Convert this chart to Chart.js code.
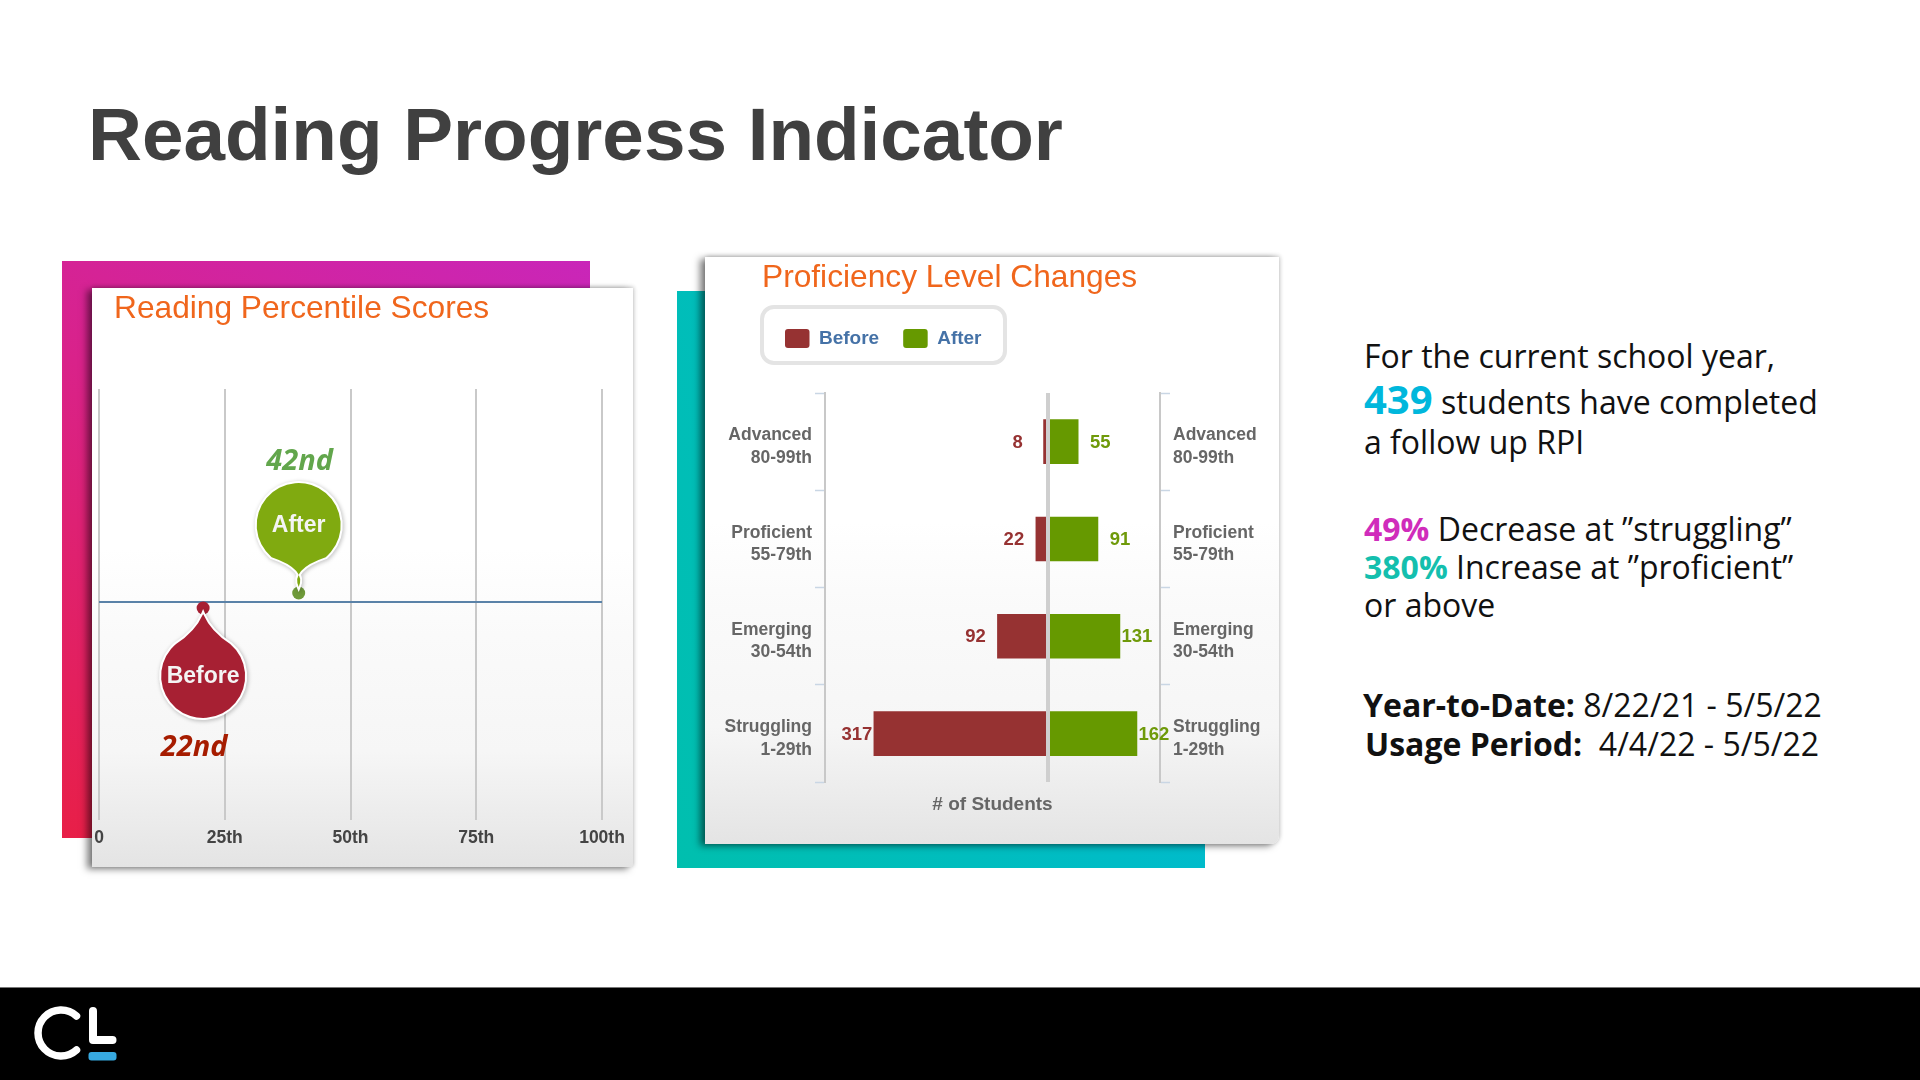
<!DOCTYPE html>
<html><head><meta charset="utf-8">
<script src="https://cdn.jsdelivr.net/npm/chart.js@4"></script>
<style>
html,body{margin:0;padding:0;background:#fff;width:1920px;height:1080px;overflow:hidden;font-family:"Liberation Sans",Arial,sans-serif}
.abs{position:absolute}
#title{left:88px;top:91px;font:bold 74.67px/86px "Liberation Sans";color:#404040;white-space:nowrap}
#mag{left:62px;top:261px;width:528px;height:577px;background:linear-gradient(30deg,#e81f47 0%,#d9228a 55%,#c926b9 100%)}
#teal{left:677px;top:291px;width:528px;height:577px;background:linear-gradient(70deg,#00bfae 0%,#00bcc6 60%,#00bad6 100%)}
.panel{background:linear-gradient(180deg,#fff 0%,#fff 45%,#fafafa 60%,#f6f6f6 80%,#e4e4e4 100%);box-shadow:-5px 2px 7px rgba(0,0,0,.5),1px -1px 4px rgba(0,0,0,.2)}
#p1{left:92px;top:288px;width:541px;height:579px}
#p2{left:705px;top:257px;width:574px;height:587px;border-bottom-right-radius:8px}
#legendBox{left:55px;top:48px;width:239px;height:52px;border:4px solid #e4e4e4;border-radius:14px}
canvas{position:absolute;left:0;top:0}
.t{position:absolute;left:1364px;font:32px/32px "Open Sans";color:#111;white-space:pre}
.t b{font-weight:700}
#foot{left:0;top:987px;width:1920px;height:93px;background:#000;border-top:1px solid #777;box-sizing:border-box}
</style></head><body>
<div class="abs" id="title">Reading Progress Indicator</div>
<div class="abs" id="mag"></div>
<div class="abs" id="teal"></div>
<div class="abs panel" id="p1"><canvas id="c1" width="541" height="579"></canvas></div>
<div class="abs panel" id="p2"><div class="abs" id="legendBox"></div><canvas id="c2" width="574" height="587"></canvas></div>

<div class="t" style="top:340px">For the current school year,</div>
<div class="t" style="top:383px"><b style="font-size:40px;color:#00b7dc">439</b> students have completed</div>
<div class="t" style="top:426px">a follow up RPI</div>
<div class="t" style="top:513px"><b style="color:#d02cbb">49%</b> Decrease at ”struggling”</div>
<div class="t" style="top:551px"><b style="color:#14bfae">380%</b> Increase at ”proficient”</div>
<div class="t" style="top:589px">or above</div>
<div class="t" style="top:689px;left:1363px"><b>Year-to-Date:</b> 8/22/21 - 5/5/22</div>
<div class="t" style="top:728px;left:1365px"><b>Usage Period:</b>  4/4/22 - 5/5/22</div>

<div class="abs" id="foot"></div>
<svg class="abs" style="left:0;top:0" width="200" height="1080" viewBox="0 0 200 1080">
<path d="M76.5 1016 A23 23 0 1 0 76.5 1050" fill="none" stroke="#fff" stroke-width="7.5" stroke-linecap="round"/>
<path d="M93 1011 V1040 H112.5" fill="none" stroke="#fff" stroke-width="8" stroke-linecap="round" stroke-linejoin="round"/>
<rect x="88.5" y="1052" width="28" height="8.5" rx="3" fill="#37a9e0"/>
</svg>

<script>
// ---------- data ----------
const percentileTicks = [0, 25, 50, 75, 100];
const percentileTickLabels = ['0', '25th', '50th', '75th', '100th'];
const baselineX = [0, 100];
const pinNames = ['Before', 'After'];
const pinPositions = [20.7, 39.7];
const pinLabels = ['22nd', '42nd'];

const levels = ['Advanced', 'Proficient', 'Emerging', 'Struggling'];
const levelRanges = ['80-99th', '55-79th', '30-54th', '1-29th'];
const beforeCounts = [8, 22, 92, 317];
const afterCounts = [55, 91, 131, 162];

// ---------- shared ----------
const ORANGE = '#f0661c', AXIS_TXT = '#666', RED = '#963232', GREEN = '#669900';
Chart.defaults.font.family = '"Liberation Sans"';
Chart.defaults.devicePixelRatio = 1;
const boldFont = { family: '"Liberation Sans"', size: 17.5, weight: 'bold' };
const tickFont = { family: '"Liberation Sans"', size: 17.5, weight: 'bold', lineHeight: 1.29 };
const bigBold = { family: '"Liberation Sans"', size: 19, weight: 'bold' };
const titleFont = { family: '"Liberation Sans"', size: 31.7, weight: 'normal' };

// ---------- chart 1 ----------
function drawPin(ctx, x, baseY, dir, dotGap, color, dotColor, name, label, lx, ly, labelColor) {
  const R = 42, dotY = baseY + dotGap, cy = dotY + dir * 68, tipY = dotY + dir * 6;
  ctx.save();
  ctx.fillStyle = dotColor;
  ctx.beginPath(); ctx.arc(x, dotY, 6.5, 0, Math.PI * 2); ctx.fill();
  const axis = dir > 0 ? -Math.PI / 2 : Math.PI / 2, th = 0.7;
  const cpY = cy - dir * (R + 2);
  ctx.beginPath();
  ctx.arc(x, cy, R, axis + th, axis - th + Math.PI * 2);
  ctx.quadraticCurveTo(x - 8, cpY, x, tipY);
  ctx.quadraticCurveTo(x + 8, cpY, x + R * Math.cos(axis + th), cy + R * Math.sin(axis + th));
  ctx.closePath();
  ctx.shadowColor = 'rgba(0,0,0,.28)'; ctx.shadowBlur = 4; ctx.shadowOffsetX = 1; ctx.shadowOffsetY = 1;
  ctx.lineWidth = 4; ctx.strokeStyle = '#fff'; ctx.stroke();
  ctx.shadowColor = 'transparent';
  ctx.fillStyle = color; ctx.fill();
  ctx.fillStyle = '#f4f4f4';
  ctx.font = 'bold 23px "Liberation Sans"';
  ctx.textAlign = 'center'; ctx.textBaseline = 'middle';
  ctx.fillText(name, x, cy + 1);
  ctx.font = 'italic bold 29px "Open Sans"';
  ctx.fillStyle = labelColor;
  ctx.fillText(label, x + lx, cy + ly);
  ctx.restore();
}
const pinPlugin = {
  id: 'pins',
  afterDatasetsDraw(chart) {
    const els = chart.getDatasetMeta(1).data, ctx = chart.ctx;
    drawPin(ctx, els[0].x, els[0].y, 1, 6, '#a72033', '#a72033', pinNames[0], pinLabels[0], -9, 72, '#a61c00');
    drawPin(ctx, els[1].x, els[1].y, -1, -9, '#80aa10', '#6f9a3a', pinNames[1], pinLabels[1], 1, -63, '#62a64c');
  }
};
const placeTitle = (x, y) => ({
  id: 'placeTitle',
  afterLayout(chart) { const t = chart.titleBlock; t.left = x; t.right = x + 450; t.top = y; }
});
new Chart(document.getElementById('c1'), {
  type: 'scatter',
  data: { datasets: [
    { label: 'Baseline', data: baselineX.map(x => ({ x, y: 0 })), showLine: true, borderColor: '#5a82a8', borderWidth: 2, pointRadius: 0 },
    { label: 'Percentile', data: pinPositions.map(x => ({ x, y: 0 })), pointRadius: 0 }
  ]},
  options: {
    responsive: false, animation: false,
    layout: { padding: { left: 7, right: 31, top: 63, bottom: 10 } },
    plugins: {
      legend: { display: false }, tooltip: { enabled: false },
      title: { display: true, text: 'Reading Percentile Scores', align: 'start', color: ORANGE, font: titleFont, padding: 0 }
    },
    scales: {
      x: { type: 'linear', min: 0, max: 100,
        afterBuildTicks: s => { s.ticks = percentileTicks.map(value => ({ value })); },
        afterFit: s => { s.paddingLeft = 0; s.paddingRight = 0; },
        ticks: { font: boldFont, color: '#444', padding: 8, maxRotation: 0, autoSkip: false,
          callback: v => percentileTickLabels[percentileTicks.indexOf(v)] },
        grid: { color: '#c9c9c9', lineWidth: 2, drawTicks: false }, border: { display: false } },
      y: { display: false, min: -217, max: 212 }
    }
  },
  plugins: [pinPlugin, placeTitle(22, 2)]
});

// ---------- chart 2 ----------
const digitOffset = { 1: 26, 2: 22, 3: 17 };
const valueLabels = {
  id: 'valueLabels',
  afterDatasetsDraw(chart) {
    const ctx = chart.ctx;
    ctx.save();
    ctx.font = 'bold 18.5px "Liberation Sans"';
    ctx.textAlign = 'center'; ctx.textBaseline = 'middle';
    [[0, beforeCounts, -1, '#963232'], [1, afterCounts, 1, '#6f9a0a']].forEach(([d, vals, sign, col]) => {
      ctx.fillStyle = col;
      chart.getDatasetMeta(d).data.forEach((el, i) => {
        ctx.fillText(String(vals[i]), el.x + sign * digitOffset[String(vals[i]).length], el.y + 1);
      });
    });
    ctx.restore();
  }
};
const placeHead = {
  id: 'placeHead',
  afterLayout(chart) {
    const t = chart.titleBlock, l = chart.legend;
    t.left = 57; t.right = 540; t.top = 2;
    l.left = 56; l.right = 400; l.top = 48;
  },
  beforeDraw(chart) {
    // row labels sit a little below the middle of each row
    ['y', 'yRight'].forEach(id => {
      const scale = chart.scales[id];
      if (scale._labelsNudged) return;
      scale.getLabelItems().forEach(item => { item.textOffset += 5; });
      scale._labelsNudged = true;
    });
  }
};
const sideAxis = (position, width) => ({
  type: 'category', position, offset: true, stacked: true,
  afterFit: s => { s.width = width; },
  ticks: { font: tickFont, color: AXIS_TXT, padding: 3, autoSkip: false,
    callback: (v, i) => [levels[i], levelRanges[i]] },
  grid: { offset: true, drawOnChartArea: false, tickLength: 10, tickColor: '#c9d6e4', tickWidth: 1.5 },
  border: { color: '#c8c8c8', width: 2 }
});
new Chart(document.getElementById('c2'), {
  type: 'bar',
  data: { labels: levels, datasets: [
    { label: 'Before', data: beforeCounts.map(v => -v), backgroundColor: RED, borderColor: RED, yAxisID: 'y', barThickness: 44 },
    { label: 'After', data: afterCounts, backgroundColor: GREEN, borderColor: GREEN, yAxisID: 'y', barThickness: 44 }
  ]},
  options: {
    indexAxis: 'y', responsive: false, animation: false,
    layout: { padding: { top: 45, bottom: 28, left: 0, right: 0 } },
    plugins: {
      tooltip: { enabled: false },
      title: { display: true, text: 'Proficiency Level Changes', align: 'start', color: ORANGE, font: titleFont, padding: 0 },
      legend: { display: true, position: 'top', align: 'start',
        labels: { boxWidth: 24.5, boxHeight: 19, padding: 24, font: bigBold, color: '#4572a7', useBorderRadius: true, borderRadius: 3 } }
    },
    scales: {
      x: { type: 'linear', min: -406, max: 204, stacked: true,
        afterBuildTicks: s => { s.ticks = [{ value: 0 }]; },
        ticks: { display: false },
        grid: { color: '#cfcfcf', lineWidth: 4, drawTicks: false, z: 1 }, border: { display: false },
        title: { display: true, text: '# of Students', font: bigBold, color: AXIS_TXT, padding: { top: 11, bottom: 0 } } },
      y: sideAxis('left', 120),
      yRight: sideAxis('right', 119)
    }
  },
  plugins: [valueLabels, placeHead]
});
</script>
</body></html>
